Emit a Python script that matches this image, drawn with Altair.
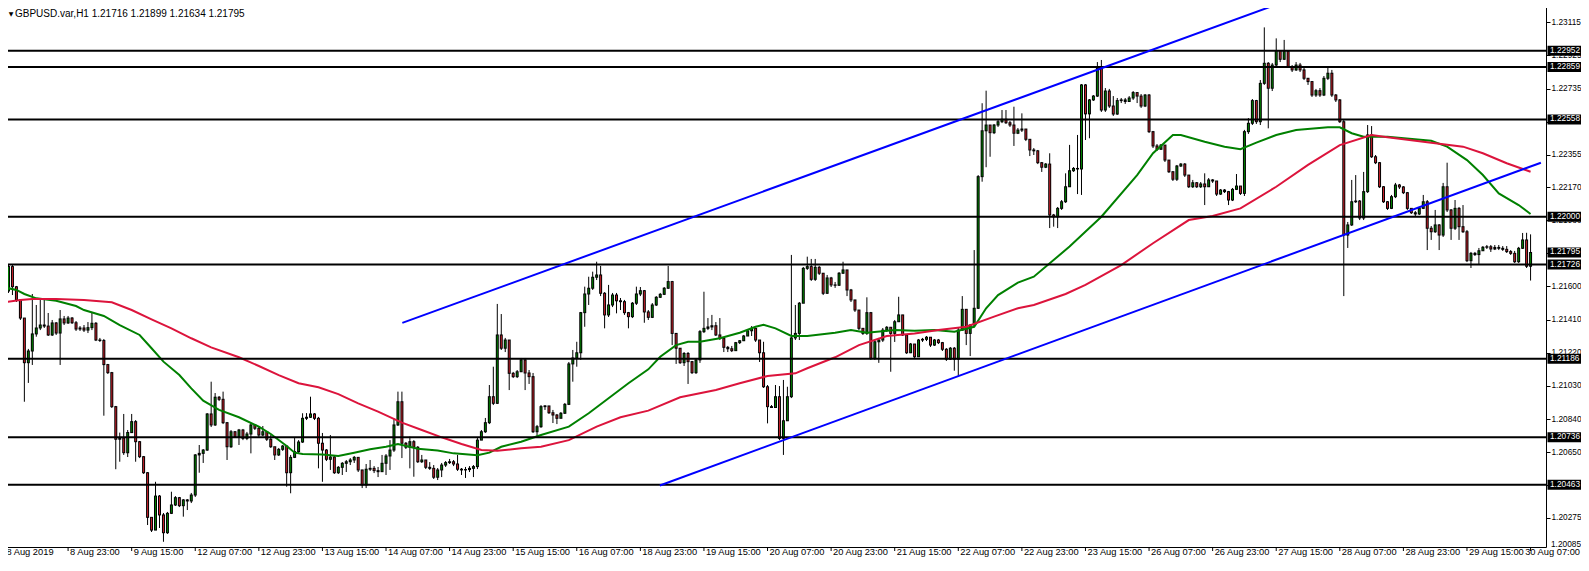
import altair as alt
import pandas as pd
import numpy as np

# ---------------- data ----------------
symbol = "GBPUSD.var,H1"
header_ohlc = [1.21716, 1.21899, 1.21634, 1.21795]

first_open = 1.21706
closes = [
1.21574,1.21714,1.21599,1.21523,1.21419,1.21163,1.21230,1.21328,1.21362,1.21379,
1.21373,1.21322,1.21391,1.21333,1.21414,1.21391,1.21419,1.21392,1.21356,1.21362,
1.21350,1.21364,1.21389,1.21293,1.21290,1.21152,1.21106,1.20911,1.20724,1.20731,
1.20647,1.20762,1.20825,1.20710,1.20624,1.20532,1.20276,1.20203,1.20398,1.20290,
1.20188,1.20299,1.20347,1.20389,1.20343,1.20376,1.20370,1.20404,1.20634,1.20643,
1.20662,1.20869,1.20806,1.20965,1.20953,1.20819,1.20681,1.20767,1.20739,1.20777,
1.20729,1.20754,1.20806,1.20787,1.20748,1.20767,1.20724,1.20681,1.20634,1.20666,
1.20685,1.20532,1.20620,1.20653,1.20708,1.20844,1.20850,1.20869,1.20844,1.20701,
1.20662,1.20609,1.20622,1.20532,1.20563,1.20586,1.20595,1.20605,1.20620,1.20548,
1.20462,1.20552,1.20557,1.20544,1.20538,1.20586,1.20628,1.20662,1.20806,1.20939,
1.20701,1.20678,1.20710,1.20678,1.20595,1.20605,1.20563,1.20557,1.20506,1.20548,
1.20576,1.20590,1.20595,1.20582,1.20552,1.20548,1.20550,1.20557,1.20567,1.20719,
1.20767,1.20819,1.20968,1.20930,1.21322,1.21246,1.21293,1.21102,1.21083,1.21111,
1.21179,1.21104,1.21083,1.20767,1.20796,1.20911,1.20915,1.20876,1.20863,1.20844,
1.20873,1.20924,1.21156,1.21190,1.21220,1.21450,1.21557,1.21590,1.21653,1.21666,
1.21561,1.21437,1.21494,1.21551,1.21518,1.21513,1.21450,1.21427,1.21504,1.21557,
1.21576,1.21454,1.21423,1.21494,1.21538,1.21555,1.21590,1.21628,1.21331,1.21246,
1.21163,1.21216,1.21169,1.21106,1.21179,1.21341,1.21360,1.21368,1.21375,1.21322,
1.21303,1.21251,1.21243,1.21232,1.21278,1.21289,1.21316,1.21346,1.21360,1.21293,
1.21220,1.21025,1.20911,1.20906,1.20968,1.20729,1.20830,1.20968,1.21305,1.21331,
1.21504,1.21704,1.21714,1.21641,1.21710,1.21676,1.21561,1.21649,1.21609,1.21607,
1.21676,1.21695,1.21580,1.21523,1.21465,1.21360,1.21331,1.21450,1.21188,1.21283,
1.21293,1.21350,1.21366,1.21331,1.21398,1.21437,1.21322,1.21220,1.21270,1.21197,
1.21293,1.21297,1.21309,1.21264,1.21293,1.21278,1.21240,1.21183,1.21246,1.21183,
1.21350,1.21469,1.21331,1.21379,1.21475,1.22230,1.22493,1.22526,1.22482,1.22526,
1.22545,1.22559,1.22539,1.22526,1.22479,1.22497,1.22503,1.22444,1.22383,1.22378,
1.22310,1.22284,1.22302,1.22010,1.22000,1.22048,1.22086,1.22172,1.22264,1.22277,
1.22274,1.22756,1.22590,1.22670,1.22692,1.22851,1.22612,1.22721,1.22635,1.22589,
1.22666,1.22670,1.22661,1.22681,1.22712,1.22692,1.22635,1.22698,1.22488,1.22406,
1.22387,1.22411,1.22325,1.22258,1.22215,1.22291,1.22302,1.22239,1.22172,1.22195,
1.22172,1.22188,1.22172,1.22211,1.22205,1.22130,1.22153,1.22144,1.22096,1.22157,
1.22176,1.22134,1.22488,1.22536,1.22666,1.22545,1.22765,1.22880,1.22737,1.22870,
1.22953,1.22903,1.22947,1.22861,1.22842,1.22870,1.22842,1.22794,1.22775,1.22698,
1.22723,1.22698,1.22794,1.22823,1.22698,1.22670,1.22545,1.21895,1.21953,1.22086,
1.22090,1.21993,1.22144,1.22469,1.22344,1.22310,1.22172,1.22086,1.22048,1.22115,
1.22182,1.22171,1.22138,1.22048,1.22023,1.22016,1.22048,1.22086,1.21934,1.21914,
1.21953,1.21895,1.22172,1.22039,1.21934,1.22048,1.21943,1.21914,1.21748,1.21790,
1.21783,1.21805,1.21825,1.21828,1.21815,1.21824,1.21819,1.21813,1.21800,1.21790,
1.21742,1.21819,1.21867,1.21716,1.21795]
highs = [
1.21740,1.21723,1.21723,1.21603,1.21523,1.21419,1.21242,1.21557,1.21494,1.21523,
1.21523,1.21448,1.21408,1.21396,1.21465,1.21431,1.21431,1.21425,1.21402,1.21373,
1.21379,1.21396,1.21450,1.21396,1.21305,1.21299,1.21156,1.21110,1.20915,1.20762,
1.20869,1.20777,1.20869,1.20834,1.20714,1.20628,1.20536,1.20278,1.20480,1.20404,
1.20301,1.20307,1.20423,1.20398,1.20393,1.20381,1.20381,1.20416,1.20639,1.20691,
1.20668,1.20874,1.21054,1.20989,1.20972,1.20997,1.20823,1.20777,1.20771,1.20783,
1.20783,1.20766,1.20817,1.20811,1.20800,1.20800,1.20766,1.20748,1.20679,1.20674,
1.20691,1.20685,1.20634,1.20731,1.20719,1.20873,1.20874,1.20968,1.20874,1.20852,
1.20760,1.20668,1.20748,1.20628,1.20570,1.20593,1.20605,1.20616,1.20628,1.20622,
1.20548,1.20582,1.20605,1.20570,1.20565,1.20634,1.20639,1.20719,1.20844,1.20997,
1.20997,1.20708,1.20739,1.20719,1.20685,1.20634,1.20605,1.20593,1.20576,1.20559,
1.20588,1.20599,1.20611,1.20605,1.20634,1.20559,1.20565,1.20570,1.20576,1.20731,
1.20777,1.20846,1.21035,1.21140,1.21500,1.21442,1.21305,1.21293,1.21110,1.21121,
1.21190,1.21190,1.21121,1.21104,1.20806,1.20920,1.20920,1.20915,1.20892,1.20869,
1.20880,1.20932,1.21167,1.21236,1.21283,1.21454,1.21599,1.21656,1.21685,1.21742,
1.21718,1.21568,1.21609,1.21563,1.21563,1.21534,1.21523,1.21454,1.21511,1.21599,
1.21597,1.21580,1.21465,1.21505,1.21545,1.21563,1.21597,1.21718,1.21632,1.21333,
1.21247,1.21224,1.21224,1.21173,1.21190,1.21350,1.21570,1.21419,1.21437,1.21396,
1.21419,1.21305,1.21259,1.21259,1.21282,1.21293,1.21322,1.21356,1.21373,1.21362,
1.21293,1.21283,1.21035,1.20920,1.21035,1.21029,1.21064,1.21025,1.21781,1.21494,
1.21511,1.21712,1.21771,1.21758,1.21758,1.21718,1.21666,1.21666,1.21655,1.21626,
1.21683,1.21742,1.21695,1.21586,1.21523,1.21465,1.21362,1.21538,1.21454,1.21293,
1.21305,1.21362,1.21373,1.21368,1.21408,1.21541,1.21437,1.21322,1.21276,1.21270,
1.21299,1.21305,1.21316,1.21310,1.21299,1.21299,1.21282,1.21247,1.21253,1.21253,
1.21362,1.21545,1.21471,1.21385,1.21809,1.22239,1.22651,1.22723,1.22526,1.22532,
1.22555,1.22612,1.22612,1.22549,1.22631,1.22509,1.22593,1.22503,1.22446,1.22394,
1.22383,1.22314,1.22308,1.22364,1.22016,1.22056,1.22096,1.22249,1.22412,1.22285,
1.22469,1.22761,1.22761,1.22675,1.22698,1.22887,1.22899,1.22738,1.22733,1.22692,
1.22681,1.22681,1.22681,1.22692,1.22721,1.22715,1.22704,1.22704,1.22704,1.22492,
1.22417,1.22417,1.22411,1.22325,1.22262,1.22297,1.22308,1.22308,1.22239,1.22211,
1.22199,1.22199,1.22249,1.22222,1.22216,1.22205,1.22159,1.22159,1.22148,1.22165,
1.22245,1.22176,1.22498,1.22566,1.22675,1.22670,1.22784,1.23086,1.22887,1.22882,
1.23023,1.22956,1.23014,1.22951,1.22870,1.22887,1.22882,1.22853,1.22796,1.22778,
1.22733,1.22738,1.22807,1.22853,1.22842,1.22704,1.22675,1.22555,1.21970,1.22211,
1.22239,1.22096,1.22257,1.22526,1.22520,1.22354,1.22314,1.22176,1.22090,1.22125,
1.22194,1.22188,1.22176,1.22142,1.22050,1.22033,1.22056,1.22125,1.22096,1.21947,
1.22039,1.21958,1.22194,1.22310,1.22044,1.22096,1.22056,1.22067,1.21924,1.21798,
1.21798,1.21821,1.21832,1.21838,1.21838,1.21838,1.21838,1.21832,1.21832,1.21809,
1.21804,1.21827,1.21907,1.21908,1.21899]
lows = [
1.21563,1.21563,1.21551,1.21511,1.21408,1.20939,1.21047,1.21150,1.21312,1.21350,
1.21362,1.21316,1.21316,1.21322,1.21150,1.21379,1.21385,1.21385,1.21345,1.21345,
1.21339,1.21333,1.21350,1.21287,1.21282,1.20859,1.21098,1.20903,1.20552,1.20595,
1.20634,1.20622,1.20760,1.20595,1.20616,1.20525,1.20232,1.20192,1.20203,1.20215,
1.20136,1.20181,1.20295,1.20341,1.20335,1.20280,1.20318,1.20358,1.20393,1.20532,
1.20588,1.20657,1.20794,1.20800,1.20943,1.20811,1.20605,1.20674,1.20731,1.20691,
1.20719,1.20719,1.20643,1.20777,1.20737,1.20742,1.20714,1.20674,1.20605,1.20628,
1.20657,1.20452,1.20414,1.20616,1.20645,1.20703,1.20834,1.20846,1.20834,1.20557,
1.20480,1.20599,1.20548,1.20525,1.20525,1.20519,1.20536,1.20576,1.20588,1.20536,
1.20444,1.20444,1.20542,1.20530,1.20507,1.20536,1.20519,1.20548,1.20651,1.20800,
1.20616,1.20668,1.20557,1.20509,1.20588,1.20588,1.20553,1.20548,1.20496,1.20490,
1.20507,1.20565,1.20582,1.20570,1.20542,1.20519,1.20502,1.20536,1.20507,1.20553,
1.20719,1.20760,1.20811,1.20920,1.20926,1.21236,1.21224,1.21006,1.21075,1.21075,
1.21110,1.21006,1.21041,1.20760,1.20739,1.20789,1.20892,1.20869,1.20817,1.20811,
1.20846,1.20869,1.20920,1.21054,1.21140,1.21179,1.21369,1.21494,1.21580,1.21637,
1.21545,1.21360,1.21425,1.21482,1.21446,1.21465,1.21437,1.21360,1.21419,1.21494,
1.21545,1.21392,1.21408,1.21419,1.21488,1.21534,1.21551,1.21586,1.21264,1.21156,
1.21156,1.21144,1.21041,1.21098,1.21098,1.21162,1.21333,1.21350,1.21350,1.21316,
1.21293,1.21224,1.21224,1.21224,1.21230,1.21270,1.21287,1.21316,1.21316,1.21282,
1.21167,1.21018,1.20815,1.20903,1.20903,1.20719,1.20634,1.20829,1.20960,1.21293,
1.21293,1.21505,1.21695,1.21632,1.21632,1.21666,1.21551,1.21557,1.21597,1.21592,
1.21603,1.21672,1.21545,1.21511,1.21454,1.21350,1.21322,1.21322,1.21179,1.21179,
1.21162,1.21282,1.21339,1.21111,1.21282,1.21396,1.21316,1.21213,1.21218,1.21190,
1.21196,1.21282,1.21287,1.21253,1.21259,1.21270,1.21230,1.21173,1.21179,1.21117,
1.21087,1.21345,1.21264,1.21201,1.21373,1.21471,1.22201,1.22284,1.22344,1.22474,
1.22515,1.22537,1.22532,1.22515,1.22406,1.22474,1.22486,1.22434,1.22348,1.22354,
1.22302,1.22257,1.22279,1.21935,1.21943,1.21935,1.22039,1.22079,1.22171,1.22257,
1.22130,1.22125,1.22440,1.22450,1.22664,1.22687,1.22601,1.22601,1.22624,1.22578,
1.22584,1.22652,1.22647,1.22658,1.22670,1.22652,1.22624,1.22629,1.22480,1.22394,
1.22377,1.22383,1.22314,1.22251,1.22205,1.22205,1.22285,1.22228,1.22165,1.22165,
1.22165,1.22165,1.22067,1.22171,1.22194,1.22119,1.22125,1.22136,1.22067,1.22090,
1.22153,1.22125,1.22119,1.22475,1.22526,1.22532,1.22526,1.22756,1.22507,1.22721,
1.22864,1.22887,1.22899,1.22853,1.22830,1.22836,1.22830,1.22784,1.22756,1.22687,
1.22687,1.22687,1.22692,1.22784,1.22687,1.22658,1.22538,1.21545,1.21821,1.21947,
1.22079,1.21981,1.21981,1.22136,1.22337,1.22302,1.22165,1.22079,1.22039,1.22044,
1.22107,1.22159,1.22130,1.22039,1.22016,1.22004,1.22010,1.22044,1.21809,1.21867,
1.21907,1.21809,1.21884,1.22027,1.21867,1.21924,1.21867,1.21907,1.21740,1.21706,
1.21775,1.21729,1.21804,1.21815,1.21798,1.21809,1.21809,1.21804,1.21792,1.21781,
1.21735,1.21735,1.21815,1.21706,1.21634]

# moving averages (bar index, value)
ma_fast_bar = [0,3,5,8,13,18,20,25,29,34,37,40,44,47,50,54,59,64,67,71,73,75,80,84,88,92,96,99,104,109,
               113,119,122,125,130,135,142,147,152,157,162,165,169,172,175,180,185,189,191,194,198,202,209,213,217,224,229,234,239,244,
               247,250,255,259,268,276,285,289,294,296,302,307,311,315,320,325,333,336,339,342,348,359,363,368,372,376,381,384]
ma_fast_val = [1.21595,1.21580,1.21557,1.21532,1.21518,1.21488,1.21465,1.21431,1.21379,1.21322,
               1.21246,1.21169,1.21092,1.21016,1.20945,1.20892,1.20850,1.20796,1.20754,1.20685,
               1.20647,1.20639,1.20637,1.20628,1.20647,1.20666,1.20681,1.20697,1.20670,1.20660,
               1.20643,1.20632,1.20647,1.20681,1.20710,1.20748,1.20796,1.20873,1.20959,1.21045,
               1.21125,1.21197,1.21264,1.21283,1.21283,1.21303,1.21335,1.21369,1.21381,1.21360,
               1.21316,1.21316,1.21335,1.21350,1.21335,1.21350,1.21346,1.21350,1.21341,1.21369,
               1.21475,1.21551,1.21622,1.21656,1.21829,1.22000,1.22239,1.22364,1.22469,1.22469,
               1.22430,1.22402,1.22387,1.22425,1.22469,1.22497,1.22513,1.22513,1.22479,1.22459,
               1.22459,1.22436,1.22402,1.22325,1.22239,1.22134,1.22067,1.22016]
ma_slow_bar = [0,4,7,13,20,27,32,37,42,47,52,59,64,69,74,79,84,89,94,100,105,110,115,120,124,130,135,142,149,155,
               162,170,179,185,192,199,202,209,215,222,229,235,242,249,255,259,267,272,281,289,298,304,311,320,328,336,344,348,359,367,
               372,378,384]
ma_slow_val = [1.21509,1.21523,1.21528,1.21528,1.21523,1.21509,1.21465,1.21411,1.21360,1.21303,
               1.21251,1.21194,1.21144,1.21092,1.21045,1.21022,1.20983,1.20930,1.20882,1.20819,
               1.20777,1.20735,1.20697,1.20662,1.20658,1.20672,1.20681,1.20719,1.20796,1.20850,
               1.20888,1.20965,1.21006,1.21045,1.21087,1.21102,1.21131,1.21194,1.21264,1.21316,
               1.21331,1.21350,1.21369,1.21427,1.21475,1.21494,1.21557,1.21609,1.21723,1.21848,
               1.21981,1.22004,1.22048,1.22172,1.22297,1.22411,1.22469,1.22456,1.22425,1.22402,
               1.22364,1.22307,1.22258]

level_prices = [1.22952, 1.22859, 1.22558, 1.22000, 1.21726, 1.21186, 1.20736, 1.20463]
bid_price = 1.21795

upper_bar = [100.1, 345.0]
upper_val = [1.21391, 1.23424]
lower_bar = [164.9, 386.6]
lower_val = [1.20459, 1.22310]

price_ticks = [1.23115, 1.22925, 1.22735, 1.22545, 1.22355, 1.22170, 1.21980, 1.21790, 1.21600,
               1.21410, 1.21220, 1.21030, 1.20840, 1.20650, 1.20460, 1.20275, 1.20085]
date_tick_bars = [0, 16, 32, 48, 64, 80, 96, 112, 128, 144, 160, 176, 192, 208, 224, 240,
                  256, 272, 288, 304, 320, 336, 352, 368, 384]
date_tick_labels = ["8 Aug 2019", "8 Aug 23:00", "9 Aug 15:00", "12 Aug 07:00", "12 Aug 23:00",
                    "13 Aug 15:00", "14 Aug 07:00", "14 Aug 23:00", "15 Aug 15:00", "16 Aug 07:00",
                    "18 Aug 23:00", "19 Aug 15:00", "20 Aug 07:00", "20 Aug 23:00", "21 Aug 15:00",
                    "22 Aug 07:00", "22 Aug 23:00", "23 Aug 15:00", "26 Aug 07:00", "26 Aug 23:00",
                    "27 Aug 15:00", "28 Aug 07:00", "28 Aug 23:00", "29 Aug 15:00", "30 Aug 07:00"]

# ---------------- tables ----------------
n = len(closes)
opens = [first_open] + closes[:-1]
bars = pd.DataFrame({"bar": list(range(n)), "open": opens, "close": closes,
                     "high": highs, "low": lows})
bars["top"] = bars[["open", "close"]].max(axis=1)
bars["bot"] = bars[["open", "close"]].min(axis=1)
bars["dir"] = np.where(bars["close"] >= bars["open"], "up", "down")

Y_LO, Y_HI = 1.20106, 1.23243

fast_df = pd.DataFrame({"bar": ma_fast_bar, "val": ma_fast_val})
slow_df = pd.DataFrame({"bar": ma_slow_bar, "val": ma_slow_val})
levels_df = pd.DataFrame({"price": level_prices})
box_df = pd.DataFrame({"price": level_prices + [bid_price]})
box_df["label"] = [f"{p:.5f}" for p in box_df["price"]]
upper_df = pd.DataFrame({"bar": upper_bar, "val": upper_val})
lower_df = pd.DataFrame({"bar": lower_bar, "val": lower_val})
date_df = pd.DataFrame({"bar": date_tick_bars, "label": date_tick_labels})
date_main = date_df.iloc[:-1]
date_last = date_df.iloc[-1:]
low_tick_df = pd.DataFrame({"price": [p for p in price_ticks if p < Y_LO]})
low_tick_df["label"] = [f"{p:.5f}" for p in low_tick_df["price"]]
header_df = pd.DataFrame({"t": [symbol + "  " + " ".join(f"{v:.5f}" for v in header_ohlc)],
                          "tri": ["\u25BC"]})

FONT = "Liberation Sans"
W, H = 1546, 547
PRICE_FS = 8.3
DATE_FS = 9.3

xs = alt.Scale(domain=[0.125, 386.625], nice=False, zero=False)
ys = alt.Scale(domain=[Y_LO, Y_HI], nice=False, zero=False)

x_axis = alt.Axis(labels=False, ticks=False, grid=False, domain=True, domainColor="black",
                  domainWidth=1, title=None)
y_axis = alt.Axis(orient="right", values=price_ticks, format=".5f", grid=False, domain=True,
                  domainColor="black", domainWidth=1, ticks=True, tickColor="black", tickSize=4,
                  labelPadding=1, labelFont=FONT, labelFontSize=PRICE_FS, labelColor="black",
                  labelOverlap=False, labelFlush=False, title=None)

def X(field="bar"):
    return alt.X(f"{field}:Q", scale=xs, axis=x_axis)

def Y(field):
    return alt.Y(f"{field}:Q", scale=ys, axis=y_axis)

wicks = alt.Chart(bars).mark_rule(color="black", strokeWidth=1).encode(
    x=X(), y=Y("low"), y2="high:Q")

body_outer = alt.Chart(bars).mark_bar(size=3, color="black", orient="vertical",
                                      yOffset=-0.5, y2Offset=0.5).encode(
    x=X(), y=Y("top"), y2="bot:Q")

body_inner = alt.Chart(bars).transform_filter(
    "datum.top - datum.bot > 0.00009").mark_bar(size=1, orient="vertical",
                                                 yOffset=0.5, y2Offset=-0.5).encode(
    x=X(), y=Y("top"), y2="bot:Q",
    color=alt.Color("dir:N", scale=alt.Scale(domain=["up", "down"],
                                             range=["#008000", "#c8202a"]), legend=None))

fast = alt.Chart(fast_df).mark_line(color="#008000", strokeWidth=2).encode(x=X(), y=Y("val"))
slow = alt.Chart(slow_df).mark_line(color="#dc143c", strokeWidth=2).encode(x=X(), y=Y("val"))

levels = alt.Chart(levels_df).mark_rule(color="black", strokeWidth=2).encode(y=Y("price"))

upper = alt.Chart(upper_df).mark_line(color="#0000ff", strokeWidth=2, clip=True).encode(
    x=X(), y=Y("val"))
lower = alt.Chart(lower_df).mark_line(color="#0000ff", strokeWidth=2, clip=True).encode(
    x=X(), y=Y("val"))

date_ticks = alt.Chart(date_df).mark_rule(color="black", strokeWidth=1).encode(
    x=X(), y=alt.value(H), y2=alt.value(H + 4))
date_text = alt.Chart(date_main).mark_text(align="left", baseline="top", dx=2, font=FONT,
                                           fontSize=DATE_FS, color="black").encode(
    x=X(), y=alt.value(H + 0.5), text="label:N")
# the last label would run past the page edge: keep it whole, ending at the edge
date_text_last = alt.Chart(date_last).mark_text(align="right", baseline="top", font=FONT,
                                                fontSize=DATE_FS, color="black").encode(
    x=alt.value(W + 34), y=alt.value(H + 0.5), text="label:N")

low_tick_text = alt.Chart(low_tick_df).mark_text(align="left", baseline="middle", dy=-6,
                                                 font=FONT, fontSize=PRICE_FS,
                                                 color="black").encode(
    x=alt.value(W + 5), y=Y("price"), text="label:N")

boxes = alt.Chart(box_df).mark_rect(color="black", yOffset=-5, y2Offset=5).encode(
    x=alt.value(W + 1.5), x2=alt.value(W + 35), y=Y("price"), y2="price:Q")
box_text = alt.Chart(box_df).mark_text(align="left", baseline="middle", font=FONT,
                                       fontSize=PRICE_FS, color="white").encode(
    x=alt.value(W + 4), y=Y("price"), text="label:N")

header = alt.Chart(header_df).mark_text(align="left", baseline="middle", font=FONT,
                                        fontSize=10, color="black").encode(
    x=alt.value(15), y=alt.value(14), text="t:N")
tri = alt.Chart(header_df).mark_text(align="center", baseline="middle", font="DejaVu Sans",
                                     fontSize=6, color="black").encode(
    x=alt.value(11), y=alt.value(14), text="tri:N")

chart = alt.layer(
    wicks, body_outer, body_inner, fast, slow, levels, upper, lower,
    date_ticks, date_text, date_text_last, low_tick_text, boxes, box_text, header, tri
).properties(
    width=W, height=H,
    autosize=alt.AutoSizeParams(type="none"),
    padding={"left": -8, "top": -8, "right": 35, "bottom": 11},
    background="white"
).configure_view(stroke=None)

chart.save("out.html", embed_options={"renderer": "svg", "actions": False})
